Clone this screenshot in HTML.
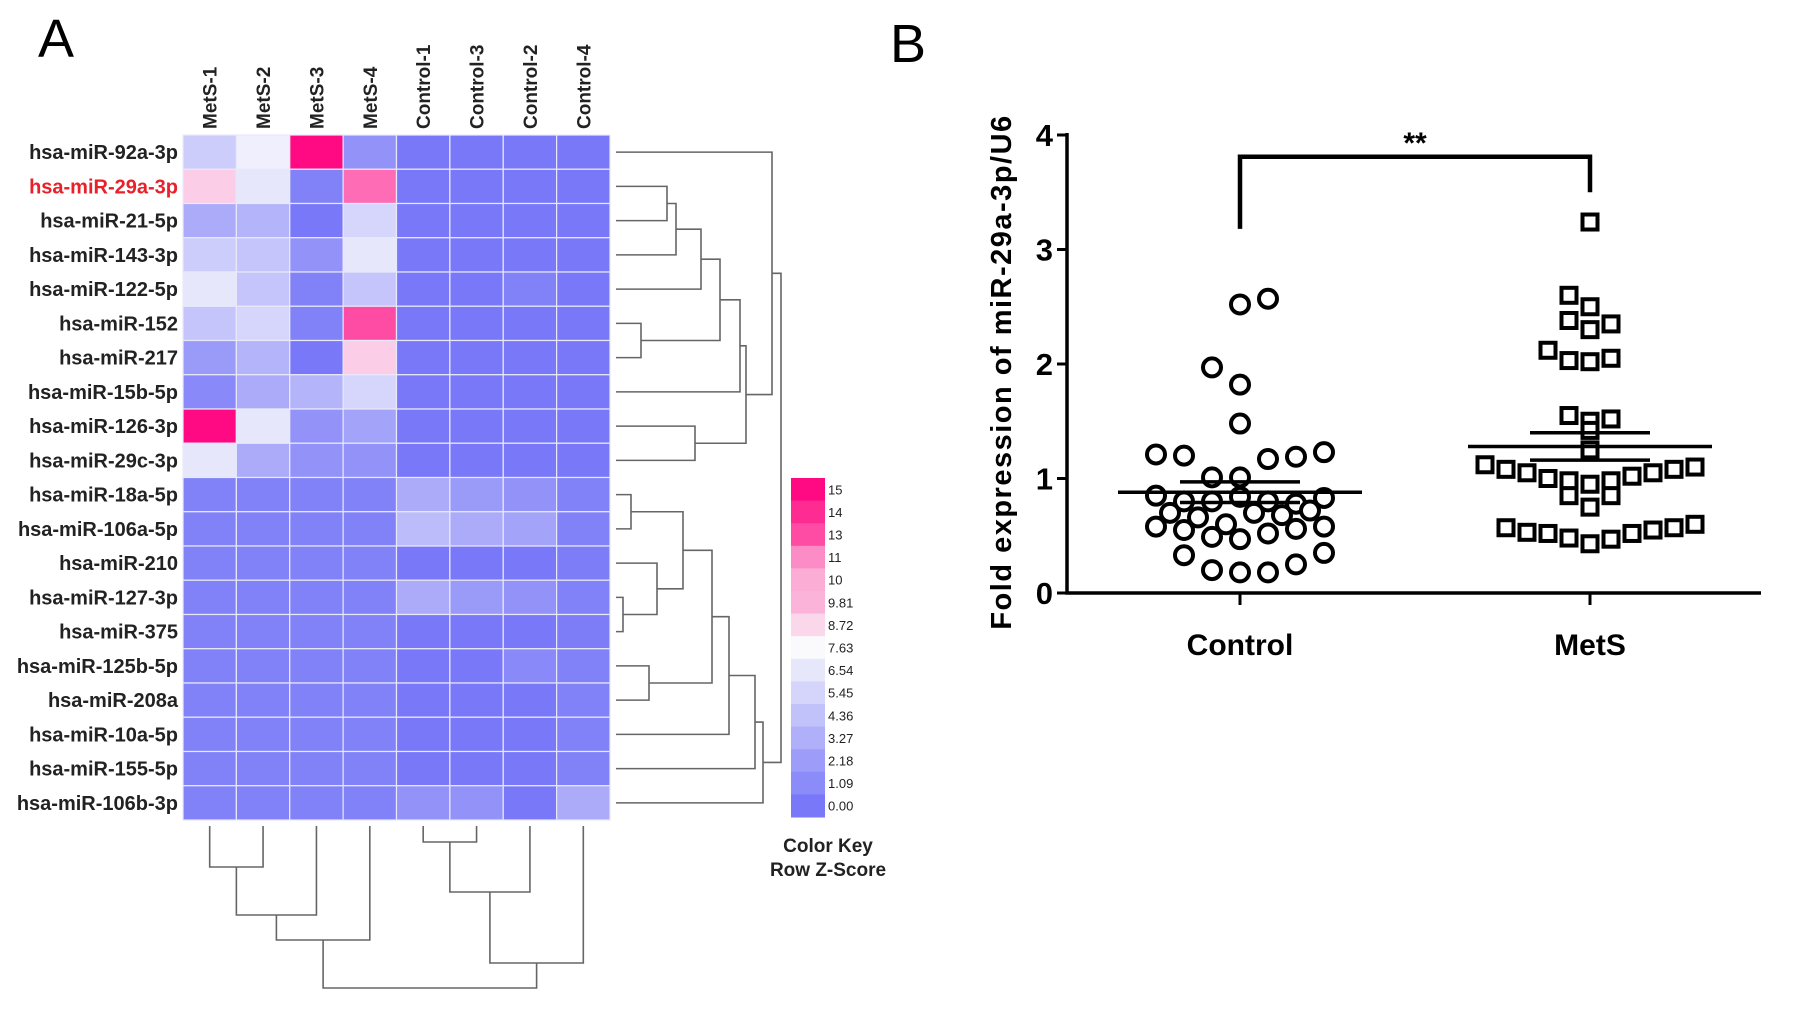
<!DOCTYPE html>
<html><head><meta charset="utf-8"><style>
html,body{margin:0;padding:0;background:#fff}
svg{display:block;font-family:"Liberation Sans",sans-serif}
</style></head><body>
<svg id="fig" width="1795" height="1010" viewBox="0 0 1795 1010" xmlns="http://www.w3.org/2000/svg">
<text x="38" y="57" font-size="54">A</text>
<text x="890" y="62" font-size="54">B</text>
<g id="heat"></g>
<g id="rowdend"></g>
<g id="coldend"></g>
<g id="key"></g>
<g id="scatter"></g>
</svg>
<script>
const NS='http://www.w3.org/2000/svg';
function mk(p,t,a){const e=document.createElementNS(NS,t);for(const k in a)e.setAttribute(k,a[k]);p.appendChild(e);return e;}

// ---------- Heatmap data ----------
const rowLabels=['hsa-miR-92a-3p','hsa-miR-29a-3p','hsa-miR-21-5p','hsa-miR-143-3p','hsa-miR-122-5p','hsa-miR-152','hsa-miR-217','hsa-miR-15b-5p','hsa-miR-126-3p','hsa-miR-29c-3p','hsa-miR-18a-5p','hsa-miR-106a-5p','hsa-miR-210','hsa-miR-127-3p','hsa-miR-375','hsa-miR-125b-5p','hsa-miR-208a','hsa-miR-10a-5p','hsa-miR-155-5p','hsa-miR-106b-3p'];
const colLabels=['MetS-1','MetS-2','MetS-3','MetS-4','Control-1','Control-3','Control-2','Control-4'];
const zValues=[
[5,7,15,1.5,0,0,0,0],
[9,6.5,0.5,12,0,0,0,0],
[3,3.5,0,5.5,0,0,0,0],
[5,4.5,1.5,6.5,0,0,0,0],
[6.5,4.5,0.5,4.5,0,0,0.5,0],
[4.5,5.5,0.5,13,0,0,0,0],
[2,3.5,0,9,0,0,0,0],
[1,3,3.5,5.5,0,0,0,0],
[15,6.5,1.5,2.5,0,0,0,0],
[6.5,3,1.5,1.5,0,0,0,0],
[0.5,0.5,0.5,0.5,3,2,1.5,0.5],
[0.5,0.5,0.5,0.5,4,3,2.5,0.5],
[0.5,0.5,0.5,0.5,0,0,0,0.3],
[0.5,0.5,0.5,0.5,3,2,1.5,0.5],
[0.5,0.5,0.5,0.5,0,0,0,0.3],
[0.5,0.5,0.5,0.5,0,0,1,0.5],
[0.5,0.5,0.5,0.5,0,0,0,0.5],
[0.5,0.5,0.5,0.5,0,0,0,0.5],
[0.5,0.5,0.5,0.5,0,0,0,0.5],
[0.5,0.5,0.5,0.5,1.5,1.5,0,3]];
const keyLabels=['15','14','13','11','10','9.81','8.72','7.63','6.54','5.45','4.36','3.27','2.18','1.09','0.00'];
const rowMerges=[[1,2,667],[20,3,676],[21,4,701],[5,6,641],[22,23,720],[24,7,740],[8,9,695],[25,26,746],[0,27,772],[10,11,631],[13,14,623],[12,30,657],[29,31,683],[15,16,649],[32,33,712],[34,17,729],[35,18,755],[36,19,763],[28,37,781]];
const colMerges=[[0,1,867],[8,2,915],[9,3,940],[4,5,842],[11,6,892],[12,7,963],[10,13,988]];

const HL=183,HR=610,HT=135,HB=820;
const cw=(HR-HL)/colLabels.length, rh=(HB-HT)/rowLabels.length;
function zColor(z){
  const lo=[120,120,248],mid=[250,250,253],hi=[255,10,130];let a,b,t;
  if(z<=7.63){a=lo;b=mid;t=z/7.63;}else{a=mid;b=hi;t=(z-7.63)/(15-7.63);}
  t=Math.max(0,Math.min(1,t));
  return 'rgb('+a.map((v,i)=>Math.round(v+(b[i]-v)*t)).join(',')+')';
}
const heat=document.getElementById('heat');
zValues.forEach((row,r)=>row.forEach((z,c)=>{
  const e=mk(heat,'rect',{x:HL+c*cw,y:HT+r*rh,width:cw,height:rh,fill:zColor(z),stroke:'#e8e8fa','stroke-width':1.2});
  
  
}));
rowLabels.forEach((l,r)=>{
  const e=mk(heat,'text',{x:HL-5,y:HT+r*rh+rh/2+7,'text-anchor':'end','font-size':20,'font-weight':'bold',fill:r===1?'#e8202a':'#222'});
  e.textContent=l;
  
  
});
colLabels.forEach((l,c)=>{
  const x=HL+c*cw+cw/2+7,y=129;
  const e=mk(heat,'text',{x:x,y:y,transform:'rotate(-90 '+x+' '+y+')','font-size':19,'font-weight':'bold',fill:'#222'});
  e.textContent=l;
  
  
});

// dendrograms
function dendro(g,merges,n,leafPos,leafBase,horizontal){
  const pos=[],h=[];
  for(let i=0;i<n;i++){pos.push(leafPos(i));h.push(leafBase);}
  merges.forEach(m=>{
    const [a,b,ht]=m;let d;
    if(horizontal) d='M'+h[a]+' '+pos[a]+'H'+ht+'V'+pos[b]+'H'+h[b];
    else d='M'+pos[a]+' '+h[a]+'V'+ht+'H'+pos[b]+'V'+h[b];
    const e=mk(g,'path',{d:d,fill:'none',stroke:'#666','stroke-width':1.6});
    
    
    pos.push((pos[a]+pos[b])/2);h.push(ht);
  });
}
dendro(document.getElementById('rowdend'),rowMerges,rowLabels.length,i=>HT+i*rh+rh/2,616,true);
dendro(document.getElementById('coldend'),colMerges,colLabels.length,i=>HL+i*cw+cw/2,826,false);

// color key
const key=document.getElementById('key');
const KT=478,KB=817,KX=791,KW=34,kh=(KB-KT)/keyLabels.length;
keyLabels.forEach((l,i)=>{
  const v=parseFloat(l);
  const e=mk(key,'rect',{x:KX,y:KT+i*kh,width:KW,height:kh+0.5,fill:zColor(v)});
  
  
  const t=mk(key,'text',{x:KX+KW+3,y:KT+i*kh+kh/2+5,'font-size':13,fill:'#222'});
  t.textContent=l;
  
  
});
[['Color Key',852],['Row Z-Score',876]].forEach(([s,y])=>{
  const t=mk(key,'text',{x:828,y:y,'text-anchor':'middle','font-size':19,'font-weight':'bold',fill:'#222'});
  t.textContent=s;
  
  
});

// ---------- Scatter data ----------
const categories=['Control','MetS'];
const yTicks=[0,1,2,3,4];
const controlValues=[2.52,2.57,1.97,1.82,1.48,1.21,1.20,1.17,1.19,1.23,1.01,1.01,0.85,0.80,0.80,0.84,0.80,0.78,0.83,0.70,0.66,0.60,0.70,0.68,0.72,0.58,0.55,0.49,0.47,0.52,0.56,0.58,0.33,0.35,0.20,0.18,0.18,0.25];
const controlSlots=[0,1,-1,0,0,-3,-2,1,2,3,-1,0,-3,-2,-1,0,1,2,3,-2.5,-1.5,-0.5,0.5,1.5,2.5,-3,-2,-1,0,1,2,3,-2,3,-1,0,1,2];
const metsValues=[3.24,2.6,2.5,2.38,2.3,2.35,2.12,2.03,2.02,2.05,1.55,1.5,1.52,1.42,1.25,1.12,1.08,1.05,1.0,0.98,0.95,0.98,1.02,1.05,1.08,1.1,0.85,0.75,0.85,0.57,0.53,0.52,0.48,0.43,0.47,0.52,0.55,0.57,0.6];
const metsSlots=[0,-1,0,-1,0,1,-2,-1,0,1,-1,0,1,0,0,-5,-4,-3,-2,-1,0,1,2,3,4,5,-1,0,1,-4,-3,-2,-1,0,1,2,3,4,5];
const means=[0.88,1.28];
const sems=[0.09,0.12];

const X0=1067,X1=1761,Y0=593,Y4=135,catX=[1240,1590];
const yS=v=>Y0+(Y4-Y0)*v/4;
const sc=document.getElementById('scatter');
let e=mk(sc,'path',{d:'M'+X0+' '+(Y4-2)+'V'+Y0+'H'+X1,fill:'none',stroke:'#000','stroke-width':3.5});


yTicks.forEach(v=>{
  const y=yS(v);
  const t=mk(sc,'line',{x1:X0-10,x2:X0,y1:y,y2:y,stroke:'#000','stroke-width':3});
  
  
  const l=mk(sc,'text',{x:X0-14,y:y+11,'text-anchor':'end','font-size':31,'font-weight':'bold'});
  l.textContent=v;
  
  
});
categories.forEach((c,i)=>{
  const t=mk(sc,'line',{x1:catX[i],x2:catX[i],y1:Y0,y2:Y0+12,stroke:'#000','stroke-width':3});
  
  
  const l=mk(sc,'text',{x:catX[i],y:655,'text-anchor':'middle','font-size':30,'font-weight':'bold'});
  l.textContent=c;
  
  
});
e=mk(sc,'text',{x:1011,y:372,transform:'rotate(-90 1011 372)','text-anchor':'middle','font-size':29,'font-weight':'bold','letter-spacing':'1.5'});
e.textContent='Fold expression of miR-29a-3p/U6';


// points
controlValues.forEach((v,i)=>{
  const c=mk(sc,'circle',{cx:catX[0]+controlSlots[i]*28,cy:yS(v),r:9,fill:'#fff',stroke:'#000','stroke-width':4});
  
  
});
metsValues.forEach((v,i)=>{
  const c=mk(sc,'rect',{x:catX[1]+metsSlots[i]*21-7.5,y:yS(v)-7.5,width:15,height:15,fill:'#fff',stroke:'#000','stroke-width':4});
  
  
});
means.forEach((m,i)=>{
  const l=mk(sc,'line',{x1:catX[i]-122,x2:catX[i]+122,y1:yS(m),y2:yS(m),stroke:'#000','stroke-width':3.5});
  
  
  [m+sems[i],m-sems[i]].forEach(s=>{
    const q=mk(sc,'line',{x1:catX[i]-60,x2:catX[i]+60,y1:yS(s),y2:yS(s),stroke:'#000','stroke-width':3.5});
    
    
  });
});
e=mk(sc,'path',{d:'M'+catX[0]+' '+yS(3.18)+'V'+yS(3.81)+'H'+catX[1]+'V'+yS(3.5),fill:'none',stroke:'#000','stroke-width':4.5});


e=mk(sc,'text',{x:(catX[0]+catX[1])/2,y:yS(3.93)+10,'text-anchor':'middle','font-size':30,'font-weight':'bold'});
e.textContent='**';


</script>
</body></html>
